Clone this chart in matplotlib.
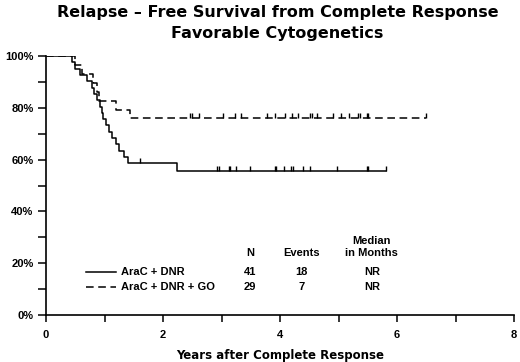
import numpy as np
import matplotlib
matplotlib.use("Agg")
import matplotlib.pyplot as plt

# Solid: AraC + DNR
solid_event_t = [0.44, 0.50, 0.58, 0.70, 0.78, 0.82, 0.88, 0.92, 0.95, 0.98,
                 1.02, 1.08, 1.12, 1.20, 1.25, 1.33, 1.40, 2.24]
solid_event_s = [97.6, 95.1, 92.7, 90.2, 87.8, 85.4, 82.9, 80.5, 78.0, 75.6,
                 73.2, 70.7, 68.3, 65.9, 63.4, 61.0, 58.5, 55.5]
solid_end = 5.81
solid_censor = [1.61, 2.93, 2.95, 3.12, 3.15, 3.25, 3.49, 3.91, 3.93, 4.06,
                4.18, 4.22, 4.39, 4.51, 4.98, 5.48, 5.51, 5.81]

# Dashed: AraC + DNR + GO
dash_event_t = [0.50, 0.62, 0.80, 0.88, 0.91, 1.20, 1.44]
dash_event_s = [96.6, 93.1, 89.7, 86.2, 82.8, 79.3, 75.9]
dash_end = 6.50
dash_censor = [2.46, 2.49, 2.62, 3.03, 3.23, 3.33, 3.78, 3.92, 4.08, 4.20,
               4.31, 4.51, 4.54, 4.63, 4.90, 5.04, 5.18, 5.33, 5.36, 5.49,
               5.51, 6.50]

legend_labels = ["AraC + DNR", "AraC + DNR + GO"]
legend_N = ["41", "29"]
legend_events = ["18", "7"]
legend_median = ["NR", "NR"]

fig = plt.figure(figsize=(5.2, 3.62), dpi=100)
ax = fig.add_axes([46/520, 1-315/362, (514-46)/520, (315-56)/362])

def km(ev_t, ev_s, end):
    t = [0.0] + list(ev_t) + [end]
    s = [100.0] + list(ev_s) + [ev_s[-1]]
    return np.array(t), np.array(s)

def surv_at(ev_t, ev_s, x):
    i = np.searchsorted(ev_t, x, side='right')
    return 100.0 if i == 0 else ev_s[i-1]

lw = 1.1
for ev_t, ev_s, end, cens, ls in [
        (solid_event_t, solid_event_s, solid_end, solid_censor, '-'),
        (dash_event_t, dash_event_s, dash_end, dash_censor, (0, (5, 3)))]:
    t, s = km(ev_t, ev_s, end)
    ax.step(t, s, where='post', color='black', lw=lw, linestyle=ls)
    for c in cens:
        sv = surv_at(ev_t, ev_s, c)
        ax.vlines(c, sv, sv + 2.0, color='black', lw=1.0)

ax.set_xlim(0, 8)
ax.set_ylim(0, 100)
for sp in ['top', 'right']:
    ax.spines[sp].set_visible(False)
for sp in ['left', 'bottom']:
    ax.spines[sp].set_linewidth(1.2)

ax.set_yticks([0, 20, 40, 60, 80, 100])
ax.set_yticklabels([f"{v}%" for v in [0, 20, 40, 60, 80, 100]],
                   fontsize=8, fontweight='bold', family='Liberation Sans')
ax.set_yticks([10, 30, 50, 70, 90], minor=True)
ax.set_xticks([0, 2, 4, 6, 8])
ax.set_xticklabels(["0", "2", "4", "6", "8"], fontsize=8, fontweight='bold',
                   family='Liberation Sans')
ax.set_xticks([1, 3, 5, 7], minor=True)
ax.tick_params(axis='both', which='both', direction='out', width=1.1, color='black')
ax.tick_params(axis='y', which='both', length=6, pad=3)
ax.tick_params(axis='x', which='both', length=5, pad=5.5)

ax.set_xlabel("Years after Complete Response", fontsize=8.5, fontweight='bold',
              labelpad=7)

fig.text(0.534, 0.966, "Relapse \u2013 Free Survival from Complete Response",
         ha='center', va='center', fontsize=11.5, fontweight='bold')
fig.text(0.534, 0.907, "Favorable Cytogenetics",
         ha='center', va='center', fontsize=11.5, fontweight='bold')

# legend table
tk = dict(fontsize=8, fontweight='bold', family='Liberation Sans', color='black')
rows_y = [16.7, 10.9]
styles = ['-', (0, (5, 3))]
for i in range(2):
    ax.plot([0.68, 1.2], [rows_y[i], rows_y[i]], color='black', lw=lw, linestyle=styles[i])
    ax.text(1.29, rows_y[i], legend_labels[i], ha='left', va='center', **tk)
    ax.text(3.49, rows_y[i], legend_N[i], ha='center', va='center', **tk)
    ax.text(4.37, rows_y[i], legend_events[i], ha='center', va='center', **tk)
    ax.text(5.57, rows_y[i], legend_median[i], ha='center', va='center', **tk)
ax.text(3.49, 23.8, "N", ha='center', va='center', **tk)
ax.text(4.37, 23.8, "Events", ha='center', va='center', **tk)
ax.text(5.57, 28.7, "Median", ha='center', va='center', **tk)
ax.text(5.57, 23.8, "in Months", ha='center', va='center', **tk)

fig.savefig("out.png", dpi=100)
